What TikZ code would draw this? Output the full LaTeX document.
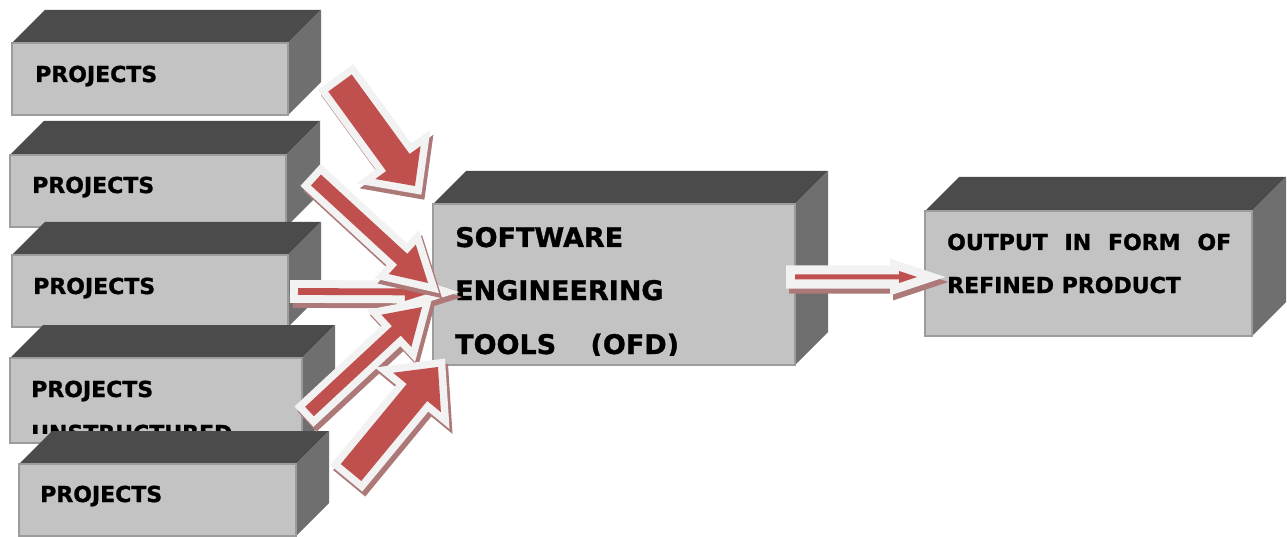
\documentclass[tikz,border=0pt]{standalone}
\usepackage{fontspec}
\setmainfont[BoldFeatures={FakeBold=1.2}]{DejaVu Sans}
\usetikzlibrary{calc}

\definecolor{boxfrontc}{HTML}{C3C3C3}
\definecolor{boxedgec}{HTML}{9C9C9C}
\definecolor{boxtopc}{HTML}{4B4B4B}
\definecolor{boxsidec}{HTML}{6F6F6F}
\definecolor{arrowred}{HTML}{C0504D}
\definecolor{arrowrim}{HTML}{F2F2F2}
\definecolor{arrowshade}{HTML}{AC7978}

% A 3D block: top and right faces, then the front face as a named node.
% #1 name, #2 #3 front top-left, #4 #5 front bottom-right, #6 depth
\newcommand{\solidbox}[6]{%
  \fill[topface] (#2,#3) -- ({#2+#6},{#3-#6}) -- ({#4+#6},{#3-#6}) -- (#4,#3) -- cycle;
  \fill[sideface] (#4,#3) -- ({#4+#6},{#3-#6}) -- ({#4+#6},{#5-#6}) -- (#4,#5) -- cycle;
  \node[frontface, anchor=north west, minimum width={#4pt-#2pt}, minimum height={#5pt-#3pt}] (#1) at (#2,#3) {};
}

% A block arrow with a light rim and an offset shadow.
% #1 tail, #2 tip, #3 body half width, #4 head length, #5 head half width, #6 rim width, #7 name
\newcommand{\blockarrow}[7]{%
  \coordinate (#7-b) at ($(#2)!#4!(#1)$);
  \coordinate (#7-1) at ($(#1)!#3!90:(#2)$);
  \coordinate (#7-2) at ($(#7-b)!#3!90:(#2)$);
  \coordinate (#7-3) at ($(#7-b)!#5!90:(#2)$);
  \coordinate (#7-4) at ($(#7-b)!#5!-90:(#2)$);
  \coordinate (#7-5) at ($(#7-b)!#3!-90:(#2)$);
  \coordinate (#7-6) at ($(#1)!#3!-90:(#2)$);
  \begin{scope}[transform canvas={shift={(3pt,-5pt)}}]
    \filldraw[arrowshade, line width=#6*2, line join=miter]
      (#7-1) -- (#7-2) -- (#7-3) -- (#2) -- (#7-4) -- (#7-5) -- (#7-6) -- cycle;
  \end{scope}
  \filldraw[arrowrim, line width=#6*2, line join=miter]
    (#7-1) -- (#7-2) -- (#7-3) -- (#2) -- (#7-4) -- (#7-5) -- (#7-6) -- cycle;
  \fill[arrowred]
    (#7-1) -- (#7-2) -- (#7-3) -- (#2) -- (#7-4) -- (#7-5) -- (#7-6) -- cycle;
}

\begin{document}
\begin{tikzpicture}[x=1pt, y=-1pt,
  topface/.style={fill=boxtopc},
  sideface/.style={fill=boxsidec},
  frontface/.style={draw=boxedgec, line width=1.5pt, fill=boxfrontc, inner sep=0pt, outer sep=0pt},
  smalllabel/.style={font=\fontsize{22}{26}\selectfont\bfseries, inner sep=0pt, anchor=base west},
  biglabel/.style={font=\fontsize{27}{32}\selectfont\bfseries, inner sep=0pt, anchor=base west}]

\useasboundingbox (0,0) rectangle (1287,537);

% input blocks, stacked from top to bottom
\solidbox{p1}{12}{43}{288}{115}{33}
\node[smalllabel] (p1t) at (35,82) {PROJECTS};

\solidbox{p2}{10}{155}{286}{227}{34}
\node[smalllabel] (p2t) at (32,193) {PROJECTS};

\solidbox{p3}{12}{255}{288}{327}{33}
\node[smalllabel] (p3t) at (33,294) {PROJECTS};

\solidbox{p4}{10}{358}{302}{443}{33}
\node[smalllabel] (p4t) at (31,397) {PROJECTS};
\begin{scope}
  \clip (10,400) rectangle (302,433);
  \node[smalllabel] (p4u) at (31,441) {UNSTRUCTURED};
\end{scope}

\solidbox{p5}{19}{464}{296}{536}{33}
\node[smalllabel] (p5t) at (40,502) {PROJECTS};

% central block
\solidbox{core}{433}{204}{795}{365}{33}
\node[biglabel] (c1) at (455,247) {SOFTWARE};
\node[biglabel] (c2) at (455,300) {ENGINEERING};
\begin{scope}
  \clip (433,310) rectangle (795,355.5);
  \node[biglabel] (c3) at (455,354) {TOOLS\ \hspace*{25pt}(OFD)};
\end{scope}

% output block
\solidbox{outbox}{925}{211}{1252}{336}{34}
\node[smalllabel] (o1) at (947,250) {\makebox[284pt][s]{OUTPUT IN FORM OF}};
\node[smalllabel] (o2) at (947,293) {REFINED PRODUCT};

% arrow end points
\coordinate (a1t) at (340,83);    \coordinate (a1h) at (415,186);
\coordinate (a2t) at (316,180);   \coordinate (a2h) at (428,283);
\coordinate (a3t) at (298,291.5); \coordinate (a3h) at (433,292);
\coordinate (a4t) at (309.5,411.5); \coordinate (a4h) at (422,307);
\coordinate (a5t) at (351,472.5); \coordinate (a5h) at (438,367);
\coordinate (a6t) at (795,277);   \coordinate (a6h) at (917,277);

\blockarrow{a3t}{a3h}{3.4pt}{28pt}{9pt}{8pt}{ar3}
\blockarrow{a2t}{a2h}{7.4pt}{35pt}{20pt}{7.5pt}{ar2}
\blockarrow{a4t}{a4h}{6.4pt}{35pt}{22pt}{7.5pt}{ar4}
\blockarrow{a1t}{a1h}{14.5pt}{29pt}{28pt}{7.5pt}{ar1}
\blockarrow{a5t}{a5h}{13.3pt}{33pt}{31pt}{7.5pt}{ar5}
\blockarrow{a6t}{a6h}{2.5pt}{18pt}{6pt}{9pt}{ar6}

\end{tikzpicture}
\end{document}
